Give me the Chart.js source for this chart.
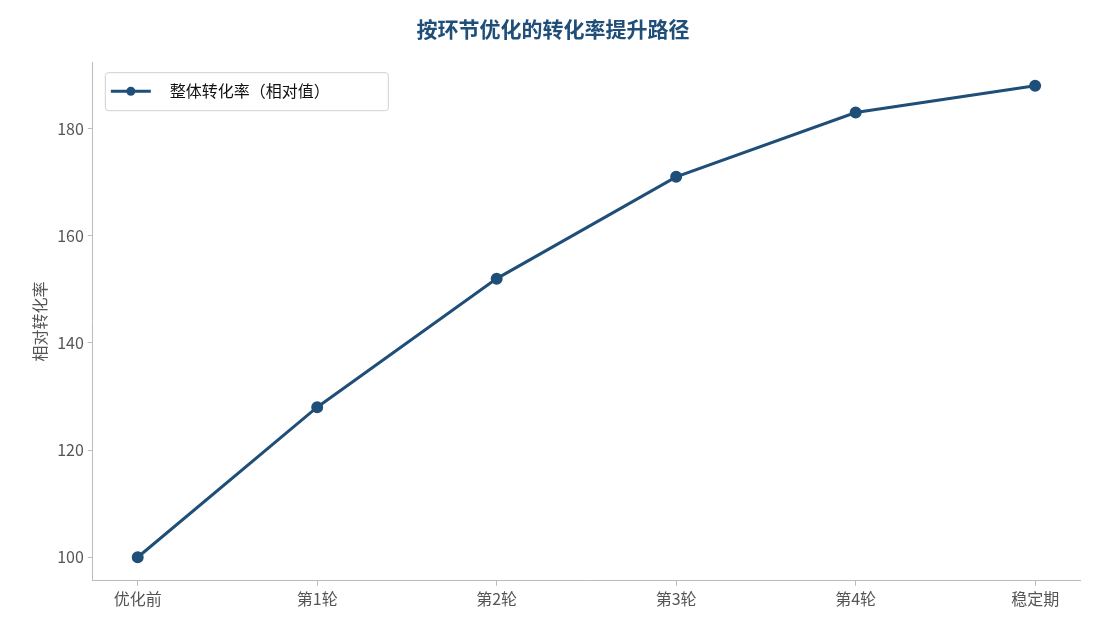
<!DOCTYPE html>
<html><head><meta charset="utf-8">
<script src="https://cdn.jsdelivr.net/npm/chart.js@4/dist/chart.umd.min.js"></script>
<style>html,body{margin:0;padding:0;background:#fff}#w{width:1095px;height:630px}</style>
</head><body><div id="w"><canvas id="c"></canvas></div>
<script>
const categories = ['优化前','第1轮','第2轮','第3轮','第4轮','稳定期'];
const values = [100, 128, 152, 171, 183, 188];
const yTicks = [100, 120, 140, 160, 180];
const seriesName = '整体转化率（相对值）';
const color = '#1f4e79';
const FONT = '"Noto Sans CJK SC", "Noto Sans", sans-serif';

const legendPlugin = {
  id: 'inLegend',
  afterDraw(chart) {
    const ctx = chart.ctx, a = chart.chartArea;
    const x = a.left + 12, y = a.top + 10, w = 283, h = 38;
    ctx.save();
    ctx.fillStyle = 'rgba(255,255,255,0.85)';
    ctx.strokeStyle = '#d0d0d0'; ctx.lineWidth = 1;
    ctx.beginPath(); ctx.roundRect(x + 0.5, y + 0.5, w, h, 3); ctx.fill(); ctx.stroke();
    const cy = y + h / 2;
    ctx.strokeStyle = color; ctx.lineWidth = 3;
    ctx.beginPath(); ctx.moveTo(x + 6, cy); ctx.lineTo(x + 46, cy); ctx.stroke();
    ctx.fillStyle = color; ctx.beginPath(); ctx.arc(x + 26, cy, 4.5, 0, Math.PI * 2); ctx.fill();
    ctx.fillStyle = '#111'; ctx.font = '16px ' + FONT; ctx.textBaseline = 'middle';
    ctx.fillText(seriesName, x + 65, cy);
    ctx.restore();
  }
};

new Chart(document.getElementById('c'), {
  type: 'line',
  data: { datasets: [{
    label: seriesName,
    data: values.map((v, i) => ({ x: i, y: v })),
    borderColor: color, backgroundColor: color, borderWidth: 3,
    pointRadius: 4.5, pointHoverRadius: 4.5, tension: 0
  }]},
  options: {
    responsive: true, maintainAspectRatio: false, animation: false,
    layout: { padding: { left: 26, right: 15, top: 0, bottom: 17 } },
    plugins: {
      legend: { display: false }, tooltip: { enabled: false },
      title: { display: true, text: '按环节优化的转化率提升路径', color: color,
        font: { family: FONT, size: 21, weight: 'bold' }, padding: { top: 16, bottom: 21 } }
    },
    scales: {
      x: { type: 'linear', min: -0.25, max: 5.25,
        afterBuildTicks: s => { s.ticks = categories.map((_, i) => ({ value: i })); },
        ticks: { callback: v => categories[v], color: '#555', font: { family: FONT, size: 16 }, padding: 4 },
        grid: { display: true, drawOnChartArea: false, drawTicks: true, tickLength: 5, tickColor: '#bbb' },
        border: { color: '#bbb' } },
      y: { min: 95.6, max: 192.4,
        afterBuildTicks: s => { s.ticks = yTicks.map(v => ({ value: v })); },
        ticks: { color: '#555', font: { family: FONT, size: 16 }, padding: 4 },
        grid: { display: true, drawOnChartArea: false, tickLength: 5, tickColor: '#bbb' },
        border: { color: '#bbb' },
        title: { display: true, text: '相对转化率', color: '#555', font: { family: FONT, size: 16 }, padding: 4 } }
    }
  },
  plugins: [legendPlugin]
});
</script></body></html>
